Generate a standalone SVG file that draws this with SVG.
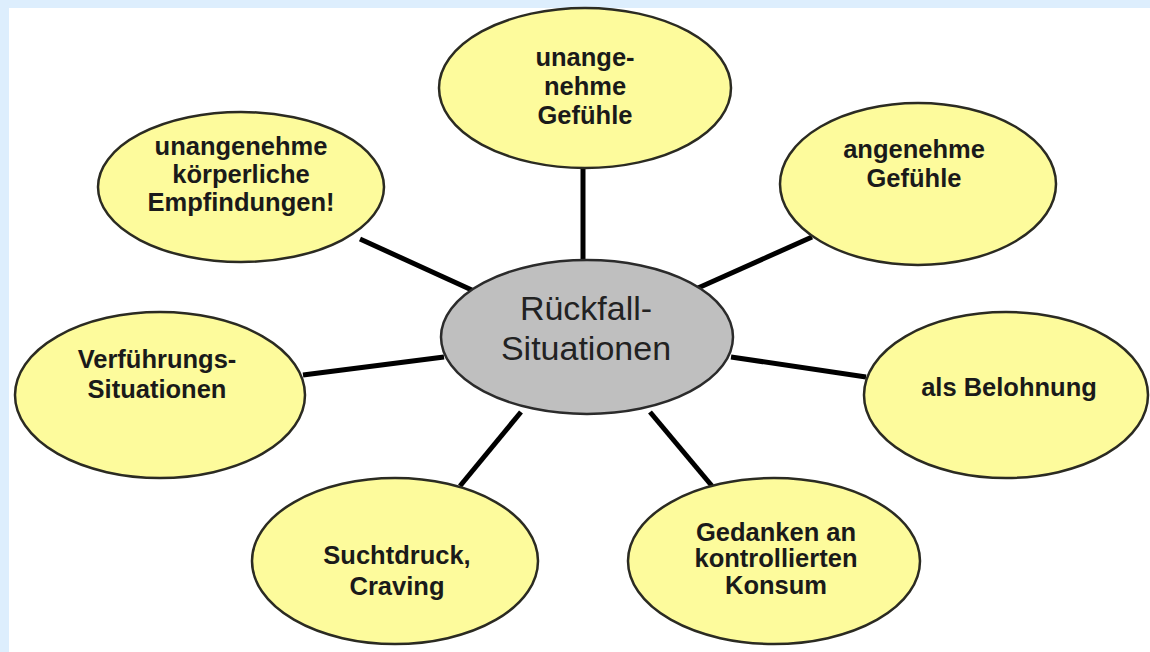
<svg xmlns="http://www.w3.org/2000/svg" width="1150" height="652" viewBox="0 0 1150 652">
<style>
.bg{fill:#ffffff}
.frame{fill:#ddeefd}
.leaf{fill:#fdfb9c;stroke:#2b2b22;stroke-width:2.5}
.hub{fill:#bfbfbf;stroke:#2b2b2b;stroke-width:2.5}
.conn line{stroke:#000000;stroke-width:5;stroke-linecap:butt}
.lbl{font-family:"Liberation Sans",Arial,sans-serif;font-weight:bold;font-size:25.5px;fill:#1a1a1a;text-anchor:middle}
.hubtxt{font-family:"Liberation Sans",Arial,sans-serif;font-size:34px;fill:#222222;text-anchor:middle}
</style>
<rect class="bg" x="0" y="0" width="1150" height="652"/>
<rect class="frame" x="0" y="0" width="1150" height="8"/>
<rect class="frame" x="0" y="0" width="9" height="652"/>
<g id="connectors" class="conn">
<line x1="583" y1="166" x2="583" y2="263"/>
<line x1="360" y1="239" x2="474" y2="291"/>
<line x1="812" y1="237" x2="698" y2="288"/>
<line x1="303" y1="375" x2="444" y2="357"/>
<line x1="731" y1="357" x2="866" y2="377"/>
<line x1="460" y1="486" x2="521" y2="412"/>
<line x1="712" y1="486" x2="650" y2="412"/>
</g>
<g id="node-center">
<ellipse class="hub" cx="587" cy="337" rx="146" ry="77"/>
<text class="hubtxt" x="586" y="320">Rückfall-</text>
<text class="hubtxt" x="586" y="360">Situationen</text>
</g>
<g id="node-unangenehme-gefuehle">
<ellipse class="leaf" cx="585" cy="88" rx="146" ry="80"/>
<text class="lbl" x="585" y="66">unange-</text>
<text class="lbl" x="585" y="95">nehme</text>
<text class="lbl" x="585" y="124">Gefühle</text>
</g>
<g id="node-koerperliche">
<ellipse class="leaf" cx="241" cy="187" rx="143" ry="75"/>
<text class="lbl" x="241" y="155">unangenehme</text>
<text class="lbl" x="241" y="183">körperliche</text>
<text class="lbl" x="241" y="211">Empfindungen!</text>
</g>
<g id="node-angenehme">
<ellipse class="leaf" cx="918" cy="184" rx="138" ry="81"/>
<text class="lbl" x="914" y="158">angenehme</text>
<text class="lbl" x="914" y="187">Gefühle</text>
</g>
<g id="node-verfuehrung">
<ellipse class="leaf" cx="160" cy="395" rx="145" ry="83"/>
<text class="lbl" x="157" y="368">Verführungs-</text>
<text class="lbl" x="157" y="398">Situationen</text>
</g>
<g id="node-belohnung">
<ellipse class="leaf" cx="1006" cy="395" rx="142" ry="83"/>
<text class="lbl" x="1009" y="396">als Belohnung</text>
</g>
<g id="node-suchtdruck">
<ellipse class="leaf" cx="395" cy="561" rx="143" ry="83"/>
<text class="lbl" x="397" y="564">Suchtdruck,</text>
<text class="lbl" x="397" y="595">Craving</text>
</g>
<g id="node-kontrolliert">
<ellipse class="leaf" cx="774" cy="561" rx="146" ry="83"/>
<text class="lbl" x="776" y="541">Gedanken an</text>
<text class="lbl" x="776" y="567">kontrollierten</text>
<text class="lbl" x="776" y="594">Konsum</text>
</g>
</svg>
